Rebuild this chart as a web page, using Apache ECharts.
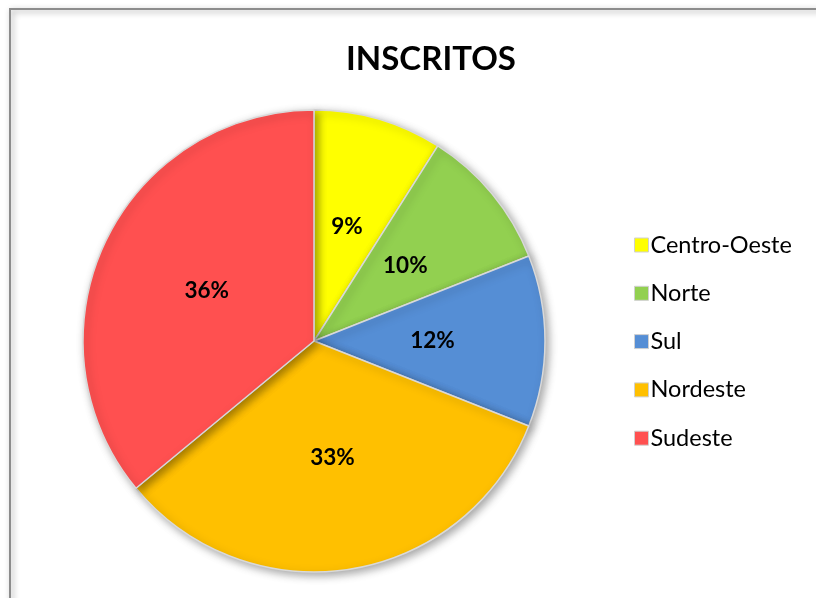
<!DOCTYPE html>
<html>
<head>
<meta charset="utf-8">
<script src="https://cdn.jsdelivr.net/npm/echarts@6/dist/echarts.min.js"></script>
<style>
html,body{margin:0;padding:0;background:#fff;}
#chart{width:816px;height:598px;}
</style>
</head>
<body>
<div id="chart"></div>
<script>
const title = 'INSCRITOS';
const categories = ['Centro-Oeste', 'Norte', 'Sul', 'Nordeste', 'Sudeste'];
const values = [9, 10, 12, 33, 36];
const colors = ['#FFFF00', '#92D050', '#558ED5', '#FFC000', '#FF5050'];

const chart = echarts.init(document.getElementById('chart'));
const FONT = 'Lato, "Liberation Sans", sans-serif';
chart.setOption({
  animation: false,
  backgroundColor: '#fff',
  title: {
    text: title,
    left: 426, top: 38, textAlign: 'center',
    textStyle: {fontFamily: FONT, fontSize: 33, fontWeight: 'bold', color: '#000'}
  },
  legend: {
    orient: 'vertical',
    left: 629, top: 228,
    itemWidth: 14, itemHeight: 14, itemGap: 24.3,
    icon: 'rect',
    data: categories,
    itemStyle: {borderColor: '#d0d0d0', borderWidth: 1},
    textStyle: {fontFamily: FONT, fontSize: 23.5, color: '#000', padding: [0, 0, 0, -3]}
  },
  graphic: [{
    type: 'rect',
    shape: {x: 10, y: 9, width: 900, height: 700},
    style: {fill: 'none', stroke: '#8c8c8c', lineWidth: 2, shadowBlur: 6, shadowColor: 'rgba(0,0,0,0.4)', shadowOffsetX: 2, shadowOffsetY: 2},
    z: -10, silent: true
  }],
  series: [{
    type: 'pie',
    center: [314, 341],
    radius: 231,
    startAngle: 90,
    clockwise: true,
    data: categories.map((c, i) => ({name: c, value: values[i], itemStyle: {color: colors[i]}})),
    itemStyle: {borderColor: '#d9d9d9', borderWidth: 1.5, shadowBlur: 8, shadowColor: 'rgba(0,0,0,0.35)', shadowOffsetX: 3, shadowOffsetY: 3},
    label: {
      position: 'inside',
      formatter: p => p.value + '%',
      fontFamily: FONT, fontSize: 22.5, fontWeight: 'bold', color: '#000'
    },
    labelLine: {show: false},
    emphasis: {disabled: true}
  }]
});
</script>
</body>
</html>
